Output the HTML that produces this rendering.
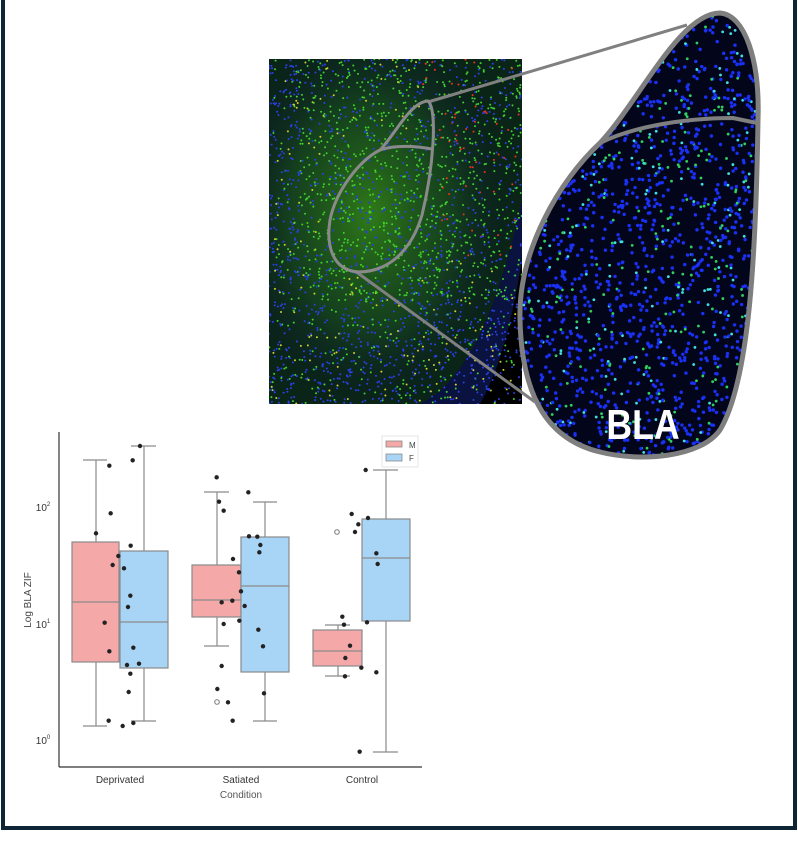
<!DOCTYPE html>
<html><head><meta charset="utf-8"><style>
html,body{margin:0;padding:0;background:#fff;}
body{width:798px;height:854px;position:relative;overflow:hidden;font-family:"Liberation Sans",sans-serif;}
</style></head><body>
<svg id="s" width="798" height="854" viewBox="0 0 798 854" xmlns="http://www.w3.org/2000/svg" style="position:absolute;left:0;top:0">
<defs>
<clipPath id="cr"><rect x="269" y="59" width="253" height="345"/></clipPath>
<clipPath id="cb"><path id="blobp" d="M720,13 C745,15 760,60 758,120 C756,250 750,380 720,430 C700,458 640,462 600,452 C550,440 522,400 520,320 C518,250 560,180 600,143 C640,100 680,13 720,13 Z"/></clipPath>
<radialGradient id="g1" cx="0.4" cy="0.45" r="0.55"><stop offset="0" stop-color="#2f7a18"/><stop offset="0.6" stop-color="#184a20" stop-opacity="0.7"/><stop offset="1" stop-color="#0a1a30" stop-opacity="0"/></radialGradient>
</defs>
<rect x="1" y="0" width="4" height="830" fill="#0d2535"/>
<rect x="793" y="0" width="4" height="830" fill="#0d2535"/>
<rect x="1" y="826" width="796" height="4" fill="#0d2535"/>
<g clip-path="url(#cr)">
<rect x="269" y="59" width="253" height="345" fill="#0a1240"/>
<path d="M269,59 L522,59 L522,200 C500,300 470,380 420,404 L269,404 Z" fill="#0b2418"/>
<path d="M480,404 C505,360 515,300 522,260 L522,404Z" fill="#000"/>
<rect x="269" y="59" width="253" height="345" fill="url(#g1)"/>
<g id="mdots"></g>
</g>
<g clip-path="url(#cb)">
<rect x="515" y="10" width="250" height="455" fill="#03061a"/>
<g id="bdots"></g>
</g>
<use href="#blobp" fill="none" stroke="#7f7f7f" stroke-width="5"/>
<path d="M600,143 C630,128 680,118 733,118 L757,123" fill="none" stroke="#7f7f7f" stroke-width="4"/>
<line x1="428" y1="102" x2="687" y2="25" stroke="#808080" stroke-width="3"/>
<line x1="355" y1="271" x2="535" y2="402" stroke="#808080" stroke-width="3"/>
<path d="M428,101 C438,110 433,170 422,215 C410,255 385,272 358,272 C332,270 326,245 330,220 C336,190 360,160 380,150 C395,135 410,102 428,101 Z" fill="none" stroke="#8a8a8a" stroke-width="3"/>
<path d="M380,150 C395,145 415,146 432,149" fill="none" stroke="#8a8a8a" stroke-width="3"/>
<text x="643" y="439" text-anchor="middle" font-family="Liberation Sans Narrow, Liberation Sans, sans-serif" font-weight="bold" font-size="42" fill="#fff" transform="translate(643 0) scale(0.85 1) translate(-643 0)">BLA</text>
<g id="chart" stroke="#8a8a8a" stroke-width="1.2">
<line x1="59" y1="432" x2="59" y2="767" stroke="#333"/>
<line x1="59" y1="767" x2="422" y2="767" stroke="#333"/>
</g>
<g font-size="10" fill="#333" text-anchor="middle">
<text x="120" y="783">Deprivated</text>
<text x="241" y="783">Satiated</text>
<text x="362" y="783">Control</text>
<text x="241" y="798" fill="#555">Condition</text>
<text transform="translate(31 600) rotate(-90)" fill="#444">Log BLA ZIF</text>
<text x="43" y="511" font-size="10">10<tspan font-size="6" dy="-5">2</tspan></text>
<text x="43" y="628" font-size="10">10<tspan font-size="6" dy="-5">1</tspan></text>
<text x="43" y="744" font-size="10">10<tspan font-size="6" dy="-5">0</tspan></text>
</g>
<rect x="382" y="436" width="36" height="31" fill="#fff" stroke="#e6e6e6"/>
<rect x="386" y="441" width="16" height="6" fill="#f4a8a8" stroke="#8a8a8a" stroke-width="0.8"/>
<rect x="386" y="454" width="16" height="7" fill="#a8d4f6" stroke="#8a8a8a" stroke-width="0.8"/>
<text x="409" y="448" font-size="8" fill="#444">M</text>
<text x="409" y="461" font-size="8" fill="#444">F</text>
</svg>
<script>
var s=document.getElementById('s'),NS='http://www.w3.org/2000/svg';
function el(p,t,a){var e=document.createElementNS(NS,t);for(var k in a)e.setAttribute(k,a[k]);p.appendChild(e);return e;}
var seed=7;function r(){seed=(seed*16807)%2147483647;return seed/2147483647;}
var md=document.getElementById('mdots');
for(var i=0;i<2600;i++){var x=269+r()*253,y=59+r()*345,c,q=r();
 var inB=(Math.pow((x-385)/55,2)+Math.pow((y-200)/75,2))<1;
 var low=y>300||x<300;
 if(q<(low?0.7:0.35))c='#2a40e8';else if(q<0.9||inB)c='#40d030';else c=(x>420&&y<260)?'#f03020':'#d0d030';
 el(md,'circle',{cx:x,cy:y,r:1,fill:c});}
var bd=document.getElementById('bdots');
for(var i=0;i<2000;i++){var x=518+r()*245,y=10+r()*455,q=r();
 el(bd,'circle',{cx:x,cy:y,r:q<0.75?1.7:1.4,fill:q<0.75?'#1a30f5':(q<0.9?'#30d060':'#40e0e0')});}
var ch=document.getElementById('chart');
var boxes=[[72,119,542,662,602,460,726,96,83,107,'#f4a8a8'],[120,168,551,668,622,446,721,144,131,156,'#a8d4f6'],
[192,241,565,617,600,492,646,217,204,229,'#f4a8a8'],[241,289,537,672,586,502,721,265,253,277,'#a8d4f6'],
[313,362,630,666,651,625,676,338,325,350,'#f4a8a8'],[362,410,519,621,558,470,752,386,373,398,'#a8d4f6']];
boxes.forEach(function(b){
 el(ch,'line',{x1:b[7],y1:b[5],x2:b[7],y2:b[2]});el(ch,'line',{x1:b[7],y1:b[3],x2:b[7],y2:b[6]});
 el(ch,'line',{x1:b[8],y1:b[5],x2:b[9],y2:b[5]});el(ch,'line',{x1:b[8],y1:b[6],x2:b[9],y2:b[6]});
 el(ch,'rect',{x:b[0],y:b[2],width:b[1]-b[0],height:b[3]-b[2],fill:b[10]});
 el(ch,'line',{x1:b[0],y1:b[4],x2:b[1],y2:b[4]});});
el(ch,'circle',{cx:337,cy:532,r:2.3,fill:'none'});el(ch,'circle',{cx:217,cy:702,r:2.3,fill:'none'});
var d=[[328,137],[332,280],[288,340],[355,408],[338,435],[314,608],[328,694],[326,902],[368,918],[398,121],[420,78],[392,377],[372,445],[391,527],[384,561],[400,683],[381,735],[417,731],[391,761],[386,816],[400,909],
[650,172],[657,245],[671,272],[699,417],[717,457],[723,514],[665,547],[697,542],[671,612],[718,602],[665,738],[652,807],[684,847],[698,902],[745,217],[747,349],[772,350],[781,375],[778,397],[734,558],[775,629],[789,679],[792,820],
[1097,150],[1055,282],[1075,313],[1065,336],[1104,294],[1129,400],[1133,432],[1027,590],[1032,614],[1101,607],[1050,677],[1036,714],[1035,769],[1084,743],[1129,757],[1079,995]];
d.forEach(function(p){el(s,'circle',{cx:p[0]/3,cy:420+p[1]/3,r:2.2,fill:'#222'});});
</script>
</body></html>
